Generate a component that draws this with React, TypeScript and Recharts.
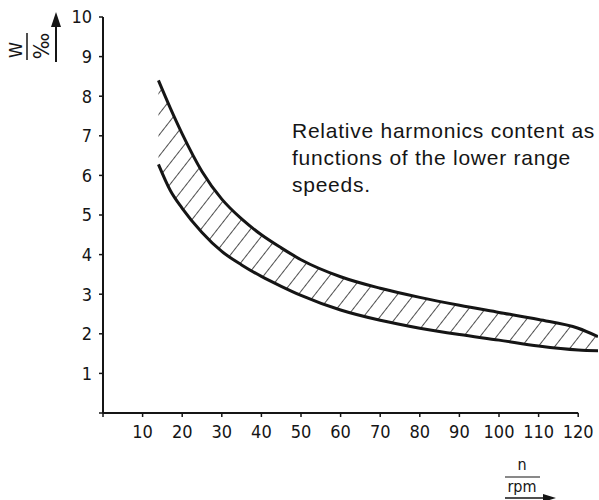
import React from "react";
import {
  ComposedChart,
  Area,
  Line,
  XAxis,
  YAxis,
  ReferenceLine,
} from "recharts";

// Drehzahl n (rpm) und Grenzkurven des Oberwellengehalts W (‰)
const speeds = [14, 17, 20, 25, 30, 35, 40, 45, 50, 60, 70, 80, 90, 100, 110, 120, 125];
const upperW = [8.4, 7.7, 7.05, 6.1, 5.4, 4.9, 4.5, 4.17, 3.87, 3.44, 3.15, 2.92, 2.72, 2.54, 2.36, 2.14, 1.93];
const lowerW = [6.28, 5.62, 5.17, 4.56, 4.08, 3.74, 3.45, 3.2, 2.97, 2.6, 2.34, 2.14, 1.98, 1.84, 1.69, 1.59, 1.57];

const xTicks = [0, 10, 20, 30, 40, 50, 60, 70, 80, 90, 100, 110, 120];
const yTicks = [0, 1, 2, 3, 4, 5, 6, 7, 8, 9, 10];

const note = [
  "Relative harmonics content as",
  "functions of the lower range",
  "speeds.",
];

const data = speeds.map((n, i) => ({
  n,
  upper: upperW[i],
  lower: lowerW[i],
  band: [lowerW[i], upperW[i]],
}));

const INK = "#151515";
const TICK_FONT = "'Liberation Sans Narrow', 'DejaVu Sans Condensed', sans-serif";

const App: React.FC = () => {
  return (
    <div
      style={{
        position: "absolute",
        left: 0,
        top: 0,
        width: 599,
        height: 500,
        background: "#fff",
      }}
    >
      <ComposedChart
        width={599}
        height={500}
        data={data}
        margin={{ top: 17, right: 1, left: 43, bottom: 57 }}
      >
        <defs>
          <pattern
            id="hatch"
            patternUnits="userSpaceOnUse"
            width={13}
            height={13}
            patternTransform="rotate(38)"
          >
            <line x1={0} y1={0} x2={0} y2={13} stroke={INK} strokeWidth={1.5} />
          </pattern>
        </defs>
        <XAxis
          dataKey="n"
          type="number"
          domain={[0, 125]}
          ticks={xTicks}
          tickFormatter={(v: number) => (v === 0 ? "" : String(v))}
          axisLine={false}
          tickLine={{ stroke: INK, strokeWidth: 1.5 }}
          tickSize={4}
          tickMargin={8}
          height={30}
          tick={{ fill: INK, fontSize: 18, fontFamily: TICK_FONT }}
          allowDataOverflow
        />
        <YAxis
          type="number"
          domain={[0, 10]}
          ticks={yTicks}
          tickFormatter={(v: number) => (v === 0 ? "" : String(v))}
          axisLine={{ stroke: INK, strokeWidth: 2 }}
          tickLine={{ stroke: INK, strokeWidth: 1.5 }}
          tickSize={4}
          tickMargin={7}
          width={60}
          tick={{ fill: INK, fontSize: 18, fontFamily: TICK_FONT }}
        />
        <ReferenceLine
          segment={[
            { x: 0, y: 0 },
            { x: 120, y: 0 },
          ]}
          stroke={INK}
          strokeWidth={2}
        />
        <Area
          dataKey="band"
          type="monotone"
          stroke="none"
          fill="url(#hatch)"
          fillOpacity={1}
          isAnimationActive={false}
        />
        <Line
          dataKey="upper"
          type="monotone"
          stroke={INK}
          strokeWidth={3}
          dot={false}
          isAnimationActive={false}
        />
        <Line
          dataKey="lower"
          type="monotone"
          stroke={INK}
          strokeWidth={3}
          dot={false}
          isAnimationActive={false}
        />
      </ComposedChart>

      {/* Achsbeschriftungen mit Pfeilen */}
      <svg
        width={599}
        height={500}
        style={{ position: "absolute", left: 0, top: 0, pointerEvents: "none" }}
      >
        <g fontFamily={TICK_FONT} fill={INK}>
          <text
            x={15}
            y={50}
            fontSize={18}
            textAnchor="middle"
            dominantBaseline="central"
            transform="rotate(-90 15 50)"
          >
            W
          </text>
          <line x1={27} y1={33} x2={27} y2={60} stroke={INK} strokeWidth={1.5} />
          <text
            x={41}
            y={46}
            fontSize={22}
            textAnchor="middle"
            dominantBaseline="central"
            transform="rotate(-90 41 46)"
          >
            ‰
          </text>
          <line x1={56} y1={62} x2={56} y2={24} stroke={INK} strokeWidth={2} />
          <polygon points="56,12 51,27 61,27" fill={INK} />

          <text x={522} y={470} fontSize={16} textAnchor="middle">
            n
          </text>
          <line x1={505} y1={477} x2={540} y2={477} stroke={INK} strokeWidth={1.2} />
          <text x={522} y={492} fontSize={16} textAnchor="middle">
            rpm
          </text>
          <line x1={505} y1={498} x2={545} y2={498} stroke={INK} strokeWidth={1.5} />
          <polygon points="556,498 543,494 543,502" fill={INK} />
        </g>
      </svg>

      <div
        style={{
          position: "absolute",
          left: 292,
          top: 117,
          fontFamily: "'Liberation Sans', Arial, sans-serif",
          fontSize: 21,
          letterSpacing: 0.75,
          lineHeight: "27px",
          color: INK,
          whiteSpace: "nowrap",
        }}
      >
        {note.map((l) => (
          <div key={l}>{l}</div>
        ))}
      </div>
    </div>
  );
};

export default App;
